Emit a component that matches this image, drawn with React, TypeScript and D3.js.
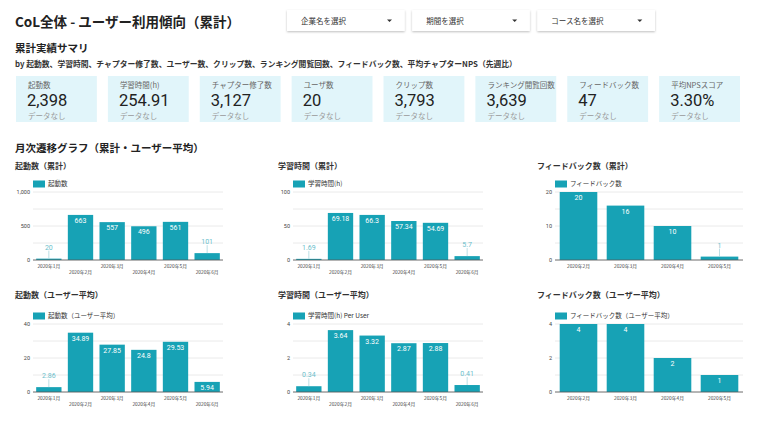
import React from 'react';
import * as d3 from 'd3';

// summary cards
const cardLabels = ['起動数', '学習時間(h)', 'チャプター修了数', 'ユーザ数', 'クリップ数', 'ランキング閲覧回数', 'フィードバック数', '平均NPSスコア'];
const cardValues = ['2,398', '254.91', '3,127', '20', '3,793', '3,639', '47', '3.30%'];
const dropdownLabels = ['企業名を選択', '期間を選択', 'コース名を選択'];

// monthly charts
const months6 = ['2020年1月', '2020年2月', '2020年3月', '2020年4月', '2020年5月', '2020年6月'];
const months4 = ['2020年2月', '2020年3月', '2020年4月', '2020年5月'];

const launchTotal = [20, 663, 557, 496, 561, 101];
const studyTotal = [1.69, 69.18, 66.3, 57.34, 54.69, 5.7];
const feedbackTotal = [20, 16, 10, 1];
const launchAvg = [2.86, 34.89, 27.85, 24.8, 29.53, 5.94];
const studyAvg = [0.34, 3.64, 3.32, 2.87, 2.88, 0.41];
const feedbackAvg = [4, 4, 2, 1];

const launchTotalTicks = [0, 500, 1000];
const studyTotalTicks = [0, 50, 100];
const feedbackTotalTicks = [0, 10, 20];
const launchAvgTicks = [0, 20, 40];
const studyAvgTicks = [0, 2, 4];
const feedbackAvgTicks = [0, 2, 4];

const TEAL = '#17a2b5';
const JP = "'Noto Sans CJK JP', Roboto, sans-serif";
const NUM = "Roboto, 'Noto Sans CJK JP', sans-serif";

const COLS = [
  { titleX: 15, left: 33, right: 223 },
  { titleX: 278, left: 293, right: 483 },
  { titleX: 537, left: 555, right: 743 },
];
const ROWS = [
  { titleY: 169, legendY: 184, top: 192, bottom: 260 },
  { titleY: 298, legendY: 316, top: 324, bottom: 392 },
];

const charts = [
  { row: 0, col: 0, title: '起動数（累計）', legend: '起動数', cats: months6, vals: launchTotal, ticks: launchTotalTicks },
  { row: 0, col: 1, title: '学習時間（累計）', legend: '学習時間(h)', cats: months6, vals: studyTotal, ticks: studyTotalTicks },
  { row: 0, col: 2, title: 'フィードバック数（累計）', legend: 'フィードバック数', cats: months4, vals: feedbackTotal, ticks: feedbackTotalTicks },
  { row: 1, col: 0, title: '起動数（ユーザー平均）', legend: '起動数（ユーザー平均）', cats: months6, vals: launchAvg, ticks: launchAvgTicks },
  { row: 1, col: 1, title: '学習時間（ユーザー平均）', legend: '学習時間(h) Per User', cats: months6, vals: studyAvg, ticks: studyAvgTicks },
  { row: 1, col: 2, title: 'フィードバック数（ユーザー平均）', legend: 'フィードバック数（ユーザー平均）', cats: months4, vals: feedbackAvg, ticks: feedbackAvgTicks },
];

const BarChart = ({ cfg }: any) => {
  const c = COLS[cfg.col];
  const r = ROWS[cfg.row];
  const max = cfg.ticks[cfg.ticks.length - 1];
  const x = d3.scaleBand<string>().domain(cfg.cats).range([c.left, c.right]).paddingInner(0.2).paddingOuter(0.1);
  const y = d3.scaleLinear().domain([0, max]).range([r.bottom, r.top]);
  const step = cfg.ticks[1] / 2;
  const grid = d3.range(0, max + step / 2, step);
  const stagger = cfg.cats.length > 4;
  return (
    <g>
      <text x={c.titleX} y={r.titleY} fontSize={8} fontWeight="bold" fill="#333" fontFamily={JP}>{cfg.title}</text>
      <rect x={c.left} y={r.legendY - 3.5} width={12} height={7} fill={TEAL} />
      <text x={c.left + 15} y={r.legendY + 2.3} fontSize={6.5} fill="#333" fontFamily={JP}>{cfg.legend}</text>
      {grid.map(g => (
        <line key={g} x1={c.left} x2={c.right} y1={y(g)} y2={y(g)} stroke="#e4e4e4" strokeWidth={0.8} />
      ))}
      {cfg.ticks.map((t: number) => (
        <text key={t} x={c.left - 3} y={y(t) + 2} fontSize={5.5} textAnchor="end" fill="#444" fontFamily={NUM}>{d3.format(',')(t)}</text>
      ))}
      {cfg.vals.map((v: number, i: number) => {
        const cat = cfg.cats[i];
        const bx = x(cat)!;
        const cx = bx + x.bandwidth() / 2;
        const top = y(v);
        const h = r.bottom - top;
        const inside = h > 9;
        return (
          <g key={cat}>
            <rect x={bx} y={top} width={x.bandwidth()} height={h} fill={TEAL} />
            {inside ? (
              <text x={cx} y={top + 8} fontSize={7} textAnchor="middle" fill="#fff" fontFamily={NUM}>{String(v)}</text>
            ) : (
              <g>
                <line x1={cx} x2={cx} y1={top} y2={top - 8} stroke="#9fd3db" strokeWidth={0.7} />
                <text x={cx} y={top - 9} fontSize={7} textAnchor="middle" fill="#6cc0cc" fontFamily={NUM}>{String(v)}</text>
              </g>
            )}
            <text x={cx} y={r.bottom + (stagger && i % 2 === 1 ? 14 : 8)} fontSize={4.8} textAnchor="middle" fill="#444" fontFamily={JP}>{cat}</text>
          </g>
        );
      })}
      <line x1={c.left} x2={c.right} y1={r.bottom} y2={r.bottom} stroke="#555" strokeWidth={0.8} />
    </g>
  );
};

export default function App() {
  const cardX = d3.scaleBand<string>().domain(cardLabels).range([16, 740]).paddingInner(0.12);
  const ddX = d3.scaleBand<string>().domain(dropdownLabels).range([287, 655]).paddingInner(0.06);
  return (
    <div style={{ position: 'absolute', left: 0, top: 0 }}>
      <svg width={768} height={432} style={{ display: 'block', background: '#fff' }}>
        <defs>
          <filter id="sh" x="-10%" y="-30%" width="120%" height="170%">
            <feDropShadow dx="0" dy="1" stdDeviation="1" floodColor="#000" floodOpacity="0.25" />
          </filter>
        </defs>
        <text x={15} y={27} fontSize={13.5} fontWeight="bold" fill="#222" fontFamily={JP}>CoL全体 - ユーザー利用傾向（累計）</text>
        {dropdownLabels.map(d => (
          <g key={d}>
            <rect x={ddX(d)} y={10} width={ddX.bandwidth()} height={21} fill="#fff" filter="url(#sh)" />
            <text x={ddX(d)! + 14} y={23.5} fontSize={7.5} fill="#333" fontFamily={JP}>{d}</text>
            <path d={`M${ddX(d)! + 100},19.5 l5,0 l-2.5,2.5 z`} fill="#333" />
          </g>
        ))}
        <text x={15} y={52} fontSize={10.5} fontWeight="bold" fill="#222" fontFamily={JP}>累計実績サマリ</text>
        <text x={15} y={67} fontSize={7.8} fontWeight="bold" fill="#333" fontFamily={JP}>by 起動数、学習時間、チャプター修了数、ユーザー数、クリップ数、ランキング閲覧回数、フィードバック数、平均チャプターNPS（先週比）</text>
        {cardLabels.map((l, i) => (
          <g key={l}>
            <rect x={cardX(l)} y={76} width={cardX.bandwidth()} height={46} fill="#e1f5fa" />
            <text x={cardX(l)! + 12} y={88} fontSize={7.5} fill="#666" fontFamily={JP}>{l}</text>
            <text x={cardX(l)! + 11} y={106} fontSize={16.5} fill="#222" fontFamily={NUM}>{cardValues[i]}</text>
            <text x={cardX(l)! + 12} y={119} fontSize={7.5} fill="#999" fontFamily={JP}>データなし</text>
          </g>
        ))}
        <text x={15} y={152} fontSize={10.5} fontWeight="bold" fill="#222" fontFamily={JP}>月次遷移グラフ（累計・ユーザー平均）</text>
        {charts.map(cfg => <BarChart key={cfg.title} cfg={cfg} />)}
      </svg>
    </div>
  );
}
